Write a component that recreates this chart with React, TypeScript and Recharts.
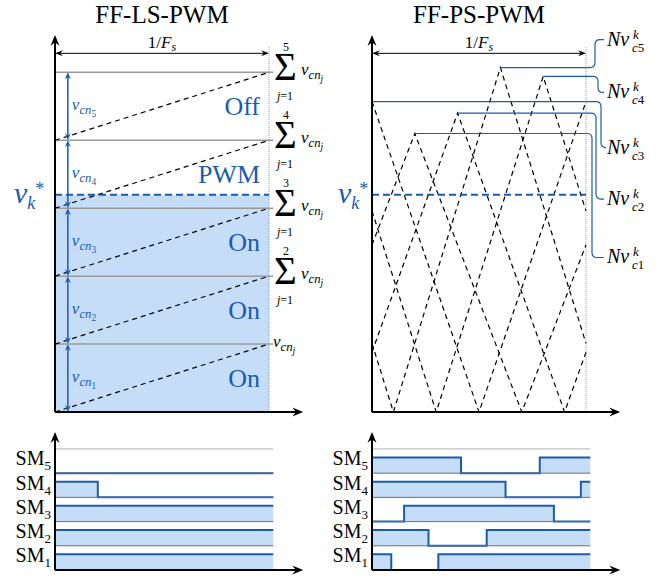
import React from 'react'
import {
  ComposedChart,
  Line,
  Area,
  XAxis,
  YAxis,
  ReferenceLine,
  ReferenceDot,
  ReferenceArea,
} from 'recharts'

const BLUE = '#1a5bae'
const SHADE = '#c6ddf8'
const GRAY = '#9a9a9a'
const DARK = '#6f6f6f'
const SERIF = '"Liberation Serif", "Times New Roman", serif'

const W = 668
const H = 576
const PX_PER_T = 214
const T_MAX = 1.16
const TOP_Y_MAX = 5.55
const BOT_Y_MAX = 5.7

// FF-LS-PWM: level shifted sawtooth carriers (one per cell)
const lsLevels = [1, 2, 3, 4, 5]
const lsCarrierLow = [0, 1, 2, 3, 4]
const lsCarrierHigh = [1, 2, 3, 4, 5]
const lsRegion = ['On', 'On', 'On', 'PWM', 'Off']
const vRef = 3.2

// FF-PS-PWM: phase shifted triangle carriers, vertices (t, v)
const psCarrierT = [
  [0, 0.2, 0.7, 1],
  [0, 0.4, 0.9, 1],
  [0, 0.5, 1],
  [0, 0.3, 0.8, 1],
  [0, 0.1, 0.6, 1],
]
const psCarrierV = [
  [2.46, 4.1, 0, 2.46],
  [0.88, 4.4, 0, 0.88],
  [4.57, 0, 4.57],
  [2.96, 0, 4.94, 2.96],
  [1.01, 0, 5.07, 1.01],
]
const psPeakT = [0.2, 0.4, 0, 0.8, 0.6]
const psPeakV = [4.1, 4.4, 4.57, 4.94, 5.07]

// switching signals SM1..SM5: edge times and state after each edge
const smNames = ['1', '2', '3', '4', '5']
const lsSwitchT = [[0, 1.02], [0, 1.02], [0, 1.02], [0, 0.2, 1.02], [0, 1.02]]
const lsSwitchS = [[1, 1], [1, 1], [1, 1], [1, 0, 0], [0, 0]]
const psSwitchT = [
  [0, 0.09, 0.31, 1.02],
  [0, 0.264, 0.536, 1.02],
  [0, 0.15, 0.85, 1.02],
  [0, 0.624, 0.976, 1.02],
  [0, 0.416, 0.784, 1.02],
]
const psSwitchS = [[1, 0, 1, 1], [1, 0, 1, 1], [0, 1, 0, 0], [1, 0, 1, 1], [1, 0, 1, 1]]
const HIGH = 0.65

// label placement for the N v_c^k tags (pixels from line end)
const tagDx = [6, 10, 15, 12, 9]
const tagDy = [124, 86, 46, 16, -28]

function buildSwitchTable(ts: number[][], ss: number[][]) {
  const all = Array.from(new Set(ts.flat())).sort((a, b) => a - b)
  return all.map((t) => {
    const row: Record<string, number> = { t }
    ts.forEach((tt, k) => {
      let s = ss[k][0]
      tt.forEach((e, i) => {
        if (e <= t) s = ss[k][i]
      })
      row['sm' + (k + 1)] = k + HIGH * s
    })
    return row
  })
}

const lsTable = buildSwitchTable(lsSwitchT, lsSwitchS)
const psTable = buildSwitchTable(psSwitchT, psSwitchS)

function head(x: number, y: number, ux: number, uy: number, color: string, len: number, half: number) {
  const bx = x - ux * len
  const by = y - uy * len
  const mx = x - ux * len * 0.65
  const my = y - uy * len * 0.65
  return (
    <path
      d={`M${x},${y}L${bx - uy * half},${by + ux * half}L${mx},${my}L${bx + uy * half},${by - ux * half}Z`}
      fill={color}
    />
  )
}

// eslint-disable-next-line @typescript-eslint/no-explicit-any
const arrowShape = (color: string, width: number, len: number, half: number, both: boolean, extra?: (p: any) => React.ReactNode) => (p: any) => {
  const { x1, y1, x2, y2 } = p
  const L = Math.hypot(x2 - x1, y2 - y1) || 1
  const ux = (x2 - x1) / L
  const uy = (y2 - y1) / L
  const s = both ? len * 0.6 : 0
  return (
    <g>
      <line
        x1={x1 + ux * s}
        y1={y1 + uy * s}
        x2={x2 - ux * len * 0.6}
        y2={y2 - uy * len * 0.6}
        stroke={color}
        strokeWidth={width}
      />
      {head(x2, y2, ux, uy, color, len, half)}
      {both ? head(x1, y1, -ux, -uy, color, len, half) : null}
      {extra ? extra(p) : null}
    </g>
  )
}

const vcn = (x: number, y: number, sub: string, color: string, size = 17) => (
  <text x={x} y={y} fill={color} fontFamily={SERIF} fontStyle="italic" fontSize={size}>
    v
    <tspan fontSize={size * 0.75} dy={size * 0.22}>cn</tspan>
    <tspan fontSize={size * 0.55} dy={size * 0.18} fontStyle={/\d/.test(sub) ? 'normal' : 'italic'}>
      {sub}
    </tspan>
  </text>
)

const vkStarShape = (dx: number) => (p: any) => {
  const { x1, y1, x2, y2 } = p
  return (
    <g>
      <line x1={x1} y1={y1} x2={x2} y2={y2} stroke={BLUE} strokeWidth={2} strokeDasharray="7 4" />
      <text x={x1 - dx} y={y1 + 8} fill={BLUE} fontFamily={SERIF} fontStyle="italic" fontSize={30}>
        v<tspan fontSize={18} dy={6}>k</tspan>
        <tspan fontSize={18} dy={-14} fontStyle="normal">*</tspan>
      </text>
    </g>
  )
}

const periodLabel = (p: any) => (
  <text x={(p.x1 + p.x2) / 2} y={p.y1 - 5} textAnchor="middle" fontFamily={SERIF} fontSize={17} fill="#000">
    1/<tspan fontStyle="italic">F</tspan>
    <tspan fontStyle="italic" fontSize={12} dy={3}>s</tspan>
  </text>
)

const sumShape = (n: number) => (p: any) => {
  const { cx, cy } = p
  if (n === 1) return <g>{vcn(cx + 4, cy + 3, 'j', '#000')}</g>
  return (
    <g fontFamily={SERIF} fill="#000">
      <text x={cx + 17} y={cy - 21} fontSize={12} textAnchor="middle" fontFamily={SERIF}>
        {n}
      </text>
      <text x={cx + 5} y={cy + 8} fontSize={39} fontFamily={SERIF}>
        Σ
      </text>
      <text x={cx + 16} y={cy + 28} fontSize={12} textAnchor="middle" fontFamily={SERIF}>
        <tspan fontStyle="italic">j</tspan>=1
      </text>
      {vcn(cx + 32, cy + 3, 'j', '#000')}
    </g>
  )
}

const regionShape = (txt: string) => (p: any) => (
  <text x={p.cx} y={p.cy + 9} textAnchor="end" fontFamily={SERIF} fontSize={26} fill={BLUE}>
    {txt}
  </text>
)

const smLabelShape = (n: string) => (p: any) => (
  <text x={p.cx - 4} y={p.cy + 8} textAnchor="end" fontFamily={SERIF} fontSize={20} fill="#000">
    SM<tspan fontSize={13} dy={5}>{n}</tspan>
  </text>
)

const tagShape = (i: number) => (p: any) => {
  const { x1, y1, x2, y2 } = p
  const ly = y2 + tagDy[i]
  const xv = x2 + tagDx[i]
  const r = 5
  const s = ly > y2 ? 1 : -1
  const lx = x2 + 21
  const d = `M${x1},${y1}H${xv - r}Q${xv},${y2} ${xv},${y2 + s * r}V${ly - s * r}Q${xv},${ly} ${xv + r},${ly}H${lx - 3}`
  return (
    <g>
      <path d={d} stroke={BLUE} strokeWidth={1.2} fill="none" />
      <text x={lx} y={ly + 6} fontFamily={SERIF} fontStyle="italic" fontSize={20} fill="#000">
        Nv
      </text>
      <text x={lx + 26} y={ly - 1} fontFamily={SERIF} fontStyle="italic" fontSize={13} fill="#000">
        k
      </text>
      <text x={lx + 25} y={ly + 12} fontFamily={SERIF} fontSize={13} fill="#000">
        <tspan fontStyle="italic">c</tspan>
        {i + 1}
      </text>
    </g>
  )
}

function axes(yMax: number) {
  return [
    <ReferenceLine
      key="ax-y"
      segment={[{ x: 0, y: 0 }, { x: 0, y: yMax }]}
      shape={arrowShape('#000', 2, 11, 4.5, false)}
    />,
    <ReferenceLine
      key="ax-x"
      segment={[{ x: 0, y: 0 }, { x: T_MAX, y: 0 }]}
      shape={arrowShape('#000', 2, 11, 4.5, false)}
    />,
  ]
}

function Panel({ left, top, bottom, yMax, data, children }: any) {
  const plotW = T_MAX * PX_PER_T
  return (
    <div style={{ position: 'absolute', left: 0, top: 0 }}>
      <ComposedChart
        width={W}
        height={H}
        data={data}
        margin={{ left, top, right: W - left - plotW, bottom: H - bottom }}
      >
        <XAxis type="number" dataKey="t" domain={[0, T_MAX]} hide allowDataOverflow />
        <YAxis type="number" domain={[0, yMax]} hide allowDataOverflow />
        {children}
      </ComposedChart>
    </div>
  )
}

function switchingChildren(table: Record<string, number>[]) {
  return [
    ...smNames.map((n, k) => (
      <ReferenceLine
        key={'base' + n}
        segment={[{ x: 0, y: k + 1 }, { x: 1.02, y: k + 1 }]}
        stroke={k === 4 ? '#b0b0b0' : DARK}
        strokeWidth={1}
      />
    )),
    ...smNames.map((n, k) => (
      <Area
        key={'sm' + n}
        data={table}
        type="stepAfter"
        dataKey={'sm' + n}
        baseValue={k}
        stroke={BLUE}
        strokeWidth={2}
        fill={SHADE}
        fillOpacity={1}
        isAnimationActive={false}
      />
    )),
    ...smNames.map((n, k) => (
      <ReferenceDot key={'lab' + n} x={0} y={k + HIGH} shape={smLabelShape(n)} />
    )),
    ...axes(BOT_Y_MAX),
  ]
}

export default function App() {
  return (
    <div style={{ position: 'absolute', left: 0, top: 0, width: W, height: H, background: '#fff' }}>
      <svg width={W} height={H} style={{ position: 'absolute', left: 0, top: 0 }}>
        <text x={162} y={23} textAnchor="middle" fontFamily={SERIF} fontSize={25}>
          FF-LS-PWM
        </text>
        <text x={479} y={23} textAnchor="middle" fontFamily={SERIF} fontSize={25}>
          FF-PS-PWM
        </text>
      </svg>

      {/* FF-LS-PWM carriers */}
      <Panel left={55} top={35} bottom={412} yMax={TOP_Y_MAX}>
        <ReferenceArea x1={0} x2={1} y1={0} y2={vRef} fill={SHADE} fillOpacity={1} stroke="none" />
        {lsLevels.map((j) => (
          <ReferenceLine key={'lvl' + j} segment={[{ x: 0, y: j }, { x: 1.02, y: j }]} stroke={GRAY} strokeWidth={1.5} />
        ))}
        <ReferenceLine segment={[{ x: 1, y: 0 }, { x: 1, y: 5.37 }]} stroke="#999" strokeDasharray="1 1" />
        {lsLevels.map((j, i) => (
          <Line
            key={'car' + j}
            data={[
              { t: 0, v: lsCarrierLow[i] },
              { t: 1, v: lsCarrierHigh[i] },
            ]}
            dataKey="v"
            stroke="#000"
            strokeWidth={1.2}
            strokeDasharray="5 4"
            dot={false}
            isAnimationActive={false}
          />
        ))}
        <ReferenceLine segment={[{ x: 0, y: vRef }, { x: 1, y: vRef }]} shape={vkStarShape(41)} />
        {lsLevels.map((j) => (
          <ReferenceLine
            key={'vcn' + j}
            segment={[{ x: 0.06, y: j - 1 }, { x: 0.06, y: j }]}
            shape={arrowShape(BLUE, 1.5, 7, 3, true, (p) => vcn(p.x1 + 4, (p.y1 + p.y2) / 2 + 4, String(j), BLUE))}
          />
        ))}
        {lsLevels.map((j, i) => (
          <ReferenceDot key={'reg' + j} x={0.958} y={j - 0.5} shape={regionShape(lsRegion[i])} />
        ))}
        {lsLevels.map((j) => (
          <ReferenceDot key={'sum' + j} x={1} y={j} shape={sumShape(j)} />
        ))}
        <ReferenceLine segment={[{ x: 0, y: 5.28 }, { x: 1, y: 5.28 }]} shape={arrowShape('#000', 1, 8, 3, true, periodLabel)} />
        {axes(TOP_Y_MAX)}
      </Panel>

      {/* FF-PS-PWM carriers */}
      <Panel left={372} top={35} bottom={412} yMax={TOP_Y_MAX}>
        <ReferenceLine segment={[{ x: 1, y: 0 }, { x: 1, y: 5.37 }]} stroke="#999" strokeDasharray="1 1" />
        {psCarrierT.map((ts, i) => (
          <Line
            key={'ps' + i}
            data={ts.map((t, k) => ({ t, v: psCarrierV[i][k] }))}
            dataKey="v"
            stroke="#000"
            strokeWidth={1.2}
            strokeDasharray="5 4"
            dot={false}
            isAnimationActive={false}
          />
        ))}
        {psPeakT.map((t, i) => (
          <ReferenceLine
            key={'tag' + i}
            segment={[{ x: t, y: psPeakV[i] }, { x: 1, y: psPeakV[i] }]}
            shape={tagShape(i)}
          />
        ))}
        <ReferenceLine segment={[{ x: 0, y: vRef }, { x: 1, y: vRef }]} shape={vkStarShape(34)} />
        <ReferenceLine segment={[{ x: 0, y: 5.28 }, { x: 1, y: 5.28 }]} shape={arrowShape('#000', 1, 8, 3, true, periodLabel)} />
        {axes(TOP_Y_MAX)}
      </Panel>

      {/* switching states */}
      <Panel left={55} top={432} bottom={570} yMax={BOT_Y_MAX} data={lsTable}>
        {switchingChildren(lsTable)}
      </Panel>
      <Panel left={372} top={432} bottom={570} yMax={BOT_Y_MAX} data={psTable}>
        {switchingChildren(psTable)}
      </Panel>
    </div>
  )
}
